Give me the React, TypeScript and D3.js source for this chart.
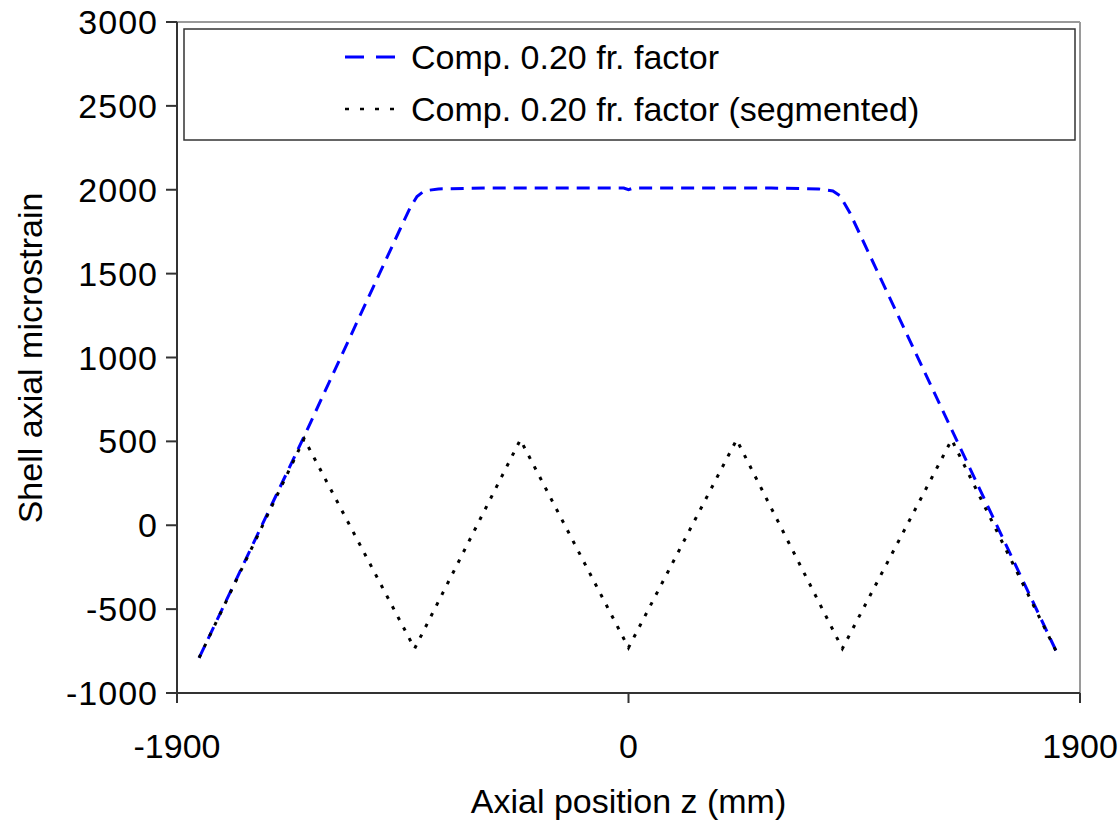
import React from "react";
import * as d3 from "d3";

const xTicks = [-1900, 0, 1900];
const yTicks = [-1000, -500, 0, 500, 1000, 1500, 2000, 2500, 3000];

const blueZ = [-1807, -1365, -961, -920, -890, -860, -800, -600, -300, -20, 0, 20, 300, 600, 800, 860, 890, 932, 1370, 1808];
const blueV = [-790, 530, 1766, 1889, 1960, 1993, 2005, 2010, 2010, 2010, 2000, 2010, 2010, 2010, 2005, 1993, 1965, 1861, 540, -775];

const segZ = [-1807, -1365, -900, -455, 0, 455, 900, 1360, 1808];
const segV = [-790, 515, -735, 510, -730, 510, -735, 510, -775];

const seriesNames = ["Comp. 0.20 fr. factor", "Comp. 0.20 fr. factor (segmented)"];
const xTitle = "Axial position z (mm)";
const yTitle = "Shell axial microstrain";

export default function App() {
  const W = 1120, H = 825;
  const L = 177, R = 1080, T = 22, B = 693;
  const x = d3.scaleLinear().domain([-1900, 1900]).range([L, R]);
  const y = d3.scaleLinear().domain([-1000, 3000]).range([B, T]);
  const line = d3.line<[number, number]>().x(d => x(d[0])).y(d => y(d[1]));
  const blue = line(blueZ.map((z, i) => [z, blueV[i]]) as [number, number][]) || "";
  const seg = line(segZ.map((z, i) => [z, segV[i]]) as [number, number][]) || "";
  const font = "'Liberation Sans', Arial, sans-serif";
  const fs = 34;
  return (
    <svg width={W} height={H} style={{ position: "absolute", left: 0, top: 0, background: "#fff" }} fontFamily={font}>
      <rect x={0} y={0} width={W} height={H} fill="#fff" />
      {/* plot border top/right */}
      <line x1={L} y1={T} x2={R} y2={T} stroke="#9a9a9a" strokeWidth={2} />
      <line x1={R} y1={T} x2={R} y2={B} stroke="#9a9a9a" strokeWidth={2} />
      {/* legend */}
      <rect x={184} y={29} width={891} height={111} fill="#fff" stroke="#333" strokeWidth={1.5} />
      <line x1={345} y1={57} x2={396} y2={57} stroke="#0000ff" strokeWidth={3} strokeDasharray="19,12" />
      <text x={411} y={69} fontSize={fs} fill="#000">{seriesNames[0]}</text>
      <line x1={345} y1={109} x2={396} y2={109} stroke="#000" strokeWidth={2.5} strokeDasharray="4,11" />
      <text x={411} y={121} fontSize={fs} fill="#000">{seriesNames[1]}</text>
      {/* series */}
      <path d={blue} fill="none" stroke="#0000ff" strokeWidth={3} strokeDasharray="13,8" />
      <path d={seg} fill="none" stroke="#000" strokeWidth={3} strokeDasharray="3.5,8.5" />
      {/* axes */}
      <line x1={L} y1={T} x2={L} y2={B} stroke="#333" strokeWidth={2} />
      <line x1={L} y1={B} x2={R} y2={B} stroke="#333" strokeWidth={2} />
      {yTicks.map(t => (
        <g key={"y" + t}>
          <line x1={L - 11} y1={y(t)} x2={L} y2={y(t)} stroke="#333" strokeWidth={2} />
          <text x={158} y={y(t) + 12} fontSize={fs} textAnchor="end" letterSpacing={1} fill="#000">{t}</text>
        </g>
      ))}
      {xTicks.map(t => (
        <g key={"x" + t}>
          <line x1={x(t)} y1={B} x2={x(t)} y2={B + 10} stroke="#333" strokeWidth={2} />
          <text x={x(t)} y={758} fontSize={fs} textAnchor="middle" fill="#000">{t}</text>
        </g>
      ))}
      <text x={(L + R) / 2} y={813} fontSize={fs} textAnchor="middle" fill="#000">{xTitle}</text>
      <text transform={`translate(42, 358) rotate(-90)`} fontSize={fs} textAnchor="middle" fill="#000">{yTitle}</text>
    </svg>
  );
}
